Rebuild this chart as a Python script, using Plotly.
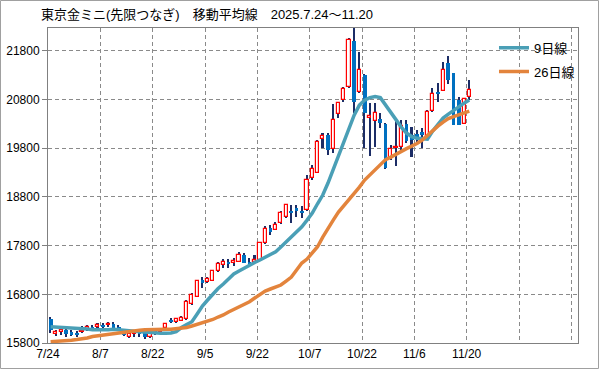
import plotly.graph_objects as go

# ---- data ----
dates = ["7/24", "7/25", "7/28", "7/29", "7/30", "7/31", "8/1", "8/4", "8/5", "8/6",
         "8/7", "8/8", "8/12", "8/13", "8/14", "8/15", "8/18", "8/19", "8/20", "8/21",
         "8/22", "8/25", "8/26", "8/27", "8/28", "8/29", "9/1", "9/2", "9/3", "9/4",
         "9/5", "9/8", "9/9", "9/10", "9/11", "9/12", "9/16", "9/17", "9/18", "9/19",
         "9/22", "9/24", "9/25", "9/26", "9/29", "9/30", "10/1", "10/2", "10/3", "10/6",
         "10/7", "10/8", "10/9", "10/10", "10/14", "10/15", "10/16", "10/17", "10/20", "10/21",
         "10/22", "10/23", "10/24", "10/27", "10/28", "10/29", "10/30", "10/31", "11/4", "11/5",
         "11/6", "11/7", "11/10", "11/11", "11/12", "11/13", "11/14", "11/17", "11/18", "11/19",
         "11/20"]

open_ = [16290, 15990, 16030, 16070, 16020, 16010, 16030, 16080, 16130, 16130,
         16170, 16170, 16200, 16130, 16020, 15930, 15980, 16030, 16030, 15930,
         16030, 16030, 16100, 16270, 16240, 16260, 16290, 16600, 16750, 17090,
         17060, 17080, 17280, 17400, 17470, 17440, 17470, 17600, 17460, 17470,
         17500, 17850, 18170, 18130, 18260, 18380, 18510, 18570, 18510, 18530,
         19180, 19300, 19980, 20070, 19780, 20500, 20790, 21050, 22000, 20950,
         21300, 20430, 20360, 20410, 20300, 19580, 19800, 19830, 20300, 20070,
         20100, 20140, 20010, 20570, 20960, 20980, 21550, 21340, 20790, 20300,
         20860]
high = [16340, 16070, 16090, 16090, 16070, 16050, 16150, 16170, 16180, 16220,
        16220, 16240, 16240, 16170, 16070, 16030, 16070, 16050, 16050, 16050,
        16070, 16100, 16220, 16310, 16310, 16360, 16680, 16830, 17090, 17160,
        17150, 17300, 17460, 17520, 17520, 17550, 17670, 17650, 17550, 17610,
        17870, 18200, 18220, 18280, 18510, 18650, 18630, 18630, 18610, 19250,
        19450, 19970, 20120, 20120, 20710, 20750, 21060, 22060, 22300, 21780,
        21320, 20730, 20720, 20520, 20310, 19870, 20380, 20380, 20380, 20240,
        20170, 20210, 20580, 21040, 21140, 21580, 21690, 21350, 20860, 20830,
        21200]
low = [16010, 15940, 15970, 15920, 15940, 15930, 16010, 16050, 16050, 16100,
       16090, 16130, 16080, 16070, 15940, 15900, 15930, 15930, 15890, 15900,
       15960, 16010, 16090, 16210, 16210, 16250, 16280, 16590, 16740, 16920,
       17030, 17070, 17260, 17340, 17340, 17380, 17460, 17440, 17400, 17460,
       17480, 17830, 18020, 18120, 18240, 18370, 18260, 18390, 18370, 18510,
       19150, 19290, 19800, 19660, 19700, 20420, 20750, 21030, 20520, 20930,
       19800, 19640, 19830, 20210, 19370, 19560, 19430, 19700, 19900, 19630,
       19870, 19800, 19970, 20550, 20750, 20970, 21130, 20270, 20270, 20290,
       20790]
close = [16070, 16020, 16070, 15980, 15980, 15980, 16050, 16120, 16080, 16170,
         16130, 16200, 16100, 16100, 15960, 15990, 16030, 15980, 15920, 16010,
         16010, 16070, 16190, 16240, 16290, 16320, 16640, 16790, 17070, 17040,
         17110, 17280, 17420, 17460, 17440, 17480, 17600, 17450, 17420, 17500,
         17850, 18140, 18090, 18220, 18460, 18630, 18480, 18520, 18480, 19150,
         19370, 19930, 20050, 19760, 20380, 20720, 21010, 22020, 20750, 21400,
         20530, 20460, 20520, 20320, 19400, 19780, 19830, 20260, 19950, 19970,
         20040, 20080, 20540, 20910, 20910, 21400, 21210, 20280, 20280, 20820,
         20990]

ma9 = [16135, 16129, 16122, 16118, 16114, 16112, 16098, 16088, 16073, 16067,
       16067, 16073, 16081, 16077, 16067, 16053, 16042, 16030, 16020, 16010,
       15999, 15999, 16001, 16005, 16032, 16118, 16180, 16238, 16396, 16560,
       16683, 16806, 16919, 17011, 17114, 17217, 17278, 17340, 17391, 17453,
       17504, 17566, 17617, 17675, 17771, 17874, 17997, 18100, 18188, 18325,
       18469, 18660, 18839, 19085, 19372, 19619, 19927, 20214, 20481, 20686,
       20789, 20840, 20861, 20840, 20686, 20522, 20378, 20235, 20112, 20040,
       20003, 19988, 19988, 20153, 20276, 20419, 20502, 20584, 20666, 20727,
       20789]
ma26 = [15827, 15831, 15837, 15841, 15856, 15870, 15882, 15903, 15934, 15950,
        15964, 15979, 15995, 16010, 16022, 16040, 16053, 16063, 16071, 16077,
        16081, 16081, 16081, 16081, 16088, 16102, 16118, 16149, 16180, 16205,
        16242, 16283, 16334, 16375, 16437, 16488, 16539, 16601, 16648, 16724,
        16796, 16868, 16909, 16950, 16991, 17073, 17155, 17299, 17443, 17525,
        17648, 17777, 17976, 18161, 18325, 18490, 18613, 18736, 18880, 19003,
        19147, 19249, 19372, 19475, 19567, 19619, 19680, 19752, 19793, 19845,
        19896, 19968, 20070, 20163, 20255, 20337, 20409, 20450, 20491, 20532,
        20563]

tick_labels = ["7/24", "8/7", "8/22", "9/5", "9/22", "10/7", "10/22", "11/6", "11/20"]
extra_grid = [89.5, 99.5]          # empty category slots to the right
title_text = "東京金ミニ(先限つなぎ)　移動平均線　2025.7.24～11.20"

# ---- build ----
x = list(range(len(dates)))
up = [i for i in x if close[i] >= open_[i]]
dn = [i for i in x if close[i] < open_[i]]

FONT = "Liberation Sans, Noto Sans CJK JP, sans-serif"
CJK = "Noto Sans CJK JP, sans-serif"
GRID = "#8a8a8a"

fig = go.Figure()
fig.add_trace(go.Bar(x=x, base=low, y=[h - l for h, l in zip(high, low)], width=0.3,
                     marker=dict(color="#1c2d66", line=dict(width=0)),
                     showlegend=False, hoverinfo="skip"))
fig.add_trace(go.Bar(x=up, base=[open_[i] for i in up],
                     y=[close[i] - open_[i] for i in up], width=0.6,
                     marker=dict(color="white", line=dict(color="#ff0000", width=1.2)),
                     showlegend=False, hoverinfo="skip"))
fig.add_trace(go.Bar(x=dn, base=[close[i] for i in dn],
                     y=[open_[i] - close[i] for i in dn], width=0.72,
                     marker=dict(color="#0070c0", line=dict(width=0)),
                     showlegend=False, hoverinfo="skip"))
fig.add_trace(go.Scatter(x=x, y=ma9, mode="lines", name="9日線", legendgroup="a",
                         line=dict(color="#4a9fb6", width=3.5)))
fig.add_trace(go.Scatter(x=x, y=ma26, mode="lines", name="26日線", legendgroup="b",
                         line=dict(color="#e3843c", width=3.5)))

tickvals = [dates.index(t) - 0.5 for t in tick_labels] + extra_grid
ticktext = tick_labels + [""] * len(extra_grid)

W, H = 599, 369
L, R, T, B = 48, 21, 28, 26
pw, ph = W - L - R, H - T - B

fig.update_layout(
    width=W, height=H,
    margin=dict(l=L, r=R, t=T, b=B, pad=0, autoexpand=False),
    paper_bgcolor="white", plot_bgcolor="white",
    barmode="overlay", bargap=0,
    font=dict(family=FONT, size=12, color="#000000"),
    title=dict(text=title_text, x=41 / W, xanchor="left", y=1 - 14 / H, yanchor="middle",
               font=dict(family=FONT, size=13, color="#000")),
    legend=dict(x=0.8415, y=0.985, xanchor="left", yanchor="top",
                bgcolor="rgba(0,0,0,0)", borderwidth=0, tracegroupgap=4,
                font=dict(family=FONT, size=13)),
    xaxis=dict(range=[-0.5, 100.77], tickmode="array", tickvals=tickvals, ticktext=ticktext,
               showgrid=True, gridcolor=GRID, griddash="4px,3px", gridwidth=1,
               showline=True, linecolor="#808080", linewidth=1, mirror=True,
               ticks="", zeroline=False, automargin=False, tickfont=dict(size=12)),
    yaxis=dict(range=[15800, 22270], tick0=15800, dtick=1000, tickformat="d",
               showgrid=True, gridcolor=GRID, griddash="4px,3px", gridwidth=1,
               showline=True, linecolor="#808080", linewidth=1, mirror=True,
               ticks="outside", ticklen=5, tickcolor="#808080",
               zeroline=False, automargin=False, tickfont=dict(size=12)),
    shapes=[dict(type="rect", xref="paper", yref="paper",
                 x0=(-L + 0.5) / pw, x1=1 + (R - 0.5) / pw,
                 y0=(-B + 0.5) / ph, y1=1 + (T - 0.5) / ph,
                 line=dict(color="#a0a0a0", width=1), fillcolor="rgba(0,0,0,0)")],
)

fig.write_html("out.html", config={"displayModeBar": False},
               post_script="document.body.style.margin='0';")
